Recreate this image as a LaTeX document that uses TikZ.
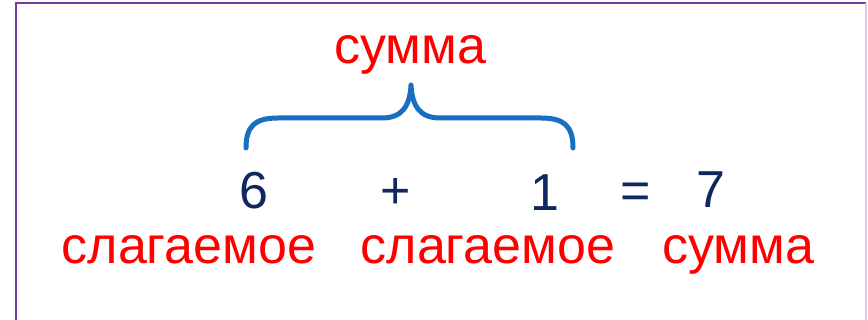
\documentclass[tikz,border=0pt]{standalone}
\usepackage{fontspec}
\setmainfont{Liberation Sans}
\definecolor{txtred}{RGB}{255,0,0}
\definecolor{navy}{RGB}{16,40,94}
\definecolor{braceblue}{RGB}{24,110,192}
\definecolor{frame}{RGB}{112,60,160}
\definecolor{framelight}{RGB}{220,195,235}
\tikzset{
  lbl/.style={anchor=base, inner sep=0pt, text=txtred, font=\fontsize{52}{60}\selectfont},
  num/.style={anchor=base, inner sep=0pt, text=navy, font=\fontsize{52}{60}\selectfont},
  bracepath/.style={draw=braceblue, line width=5pt, line cap=round, line join=round}
}
\begin{document}
\begin{tikzpicture}[x=1pt,y=-1pt]
\fill[white] (0,0) rectangle (868,320);
\useasboundingbox (0,0) rectangle (868,320);
% frame
\draw[frame, line width=2.2pt] (16,322) -- (16,3) -- (866,3);
\draw[framelight, line width=1.2pt] (866,3) -- (866,322);
% brace
\coordinate (bl) at (246,148);
\coordinate (br) at (573,148);
\coordinate (tip) at (411,85);
\draw[bracepath] (bl) .. controls (246,126) and (255,118) .. (278,118) -- (382,118)
  .. controls (402,118) and (410,106) .. (tip)
  .. controls (412,106) and (420,118) .. (440,118) -- (541,118)
  .. controls (564,118) and (573,126) .. (br);
% texts
\node[lbl] (sumtop) at (410,64) {сумма};
\node[num] (six) at (254,209) {6};
\node[num] (plus) at (396,209) {+};
\node[num] (one) at (545,211) {1};
\node[num] (eq) at (636,209) {=};
\node[num] (seven) at (711,208) {7};
\node[lbl] (add1) at (189,264) {слагаемое};
\node[lbl] (add2) at (488,264) {слагаемое};
\node[lbl] (sumbot) at (738,264) {сумма};
\end{tikzpicture}
\end{document}
